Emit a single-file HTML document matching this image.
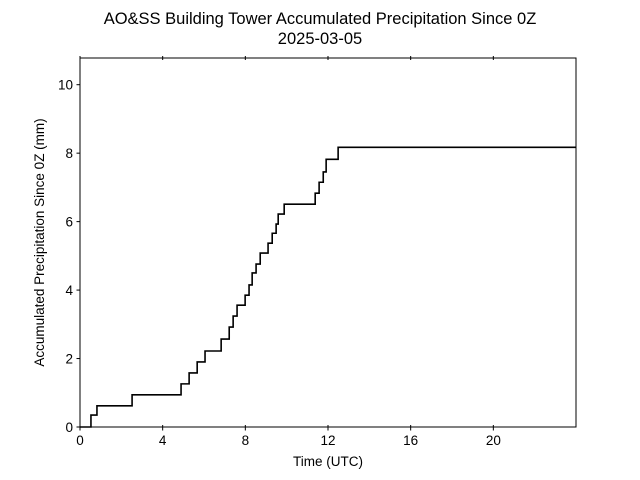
<!DOCTYPE html>
<html><head><meta charset="utf-8"><style>
html,body{margin:0;padding:0;background:#fff;}
svg{display:block;font-family:"Liberation Sans","DejaVu Sans",sans-serif;}
</style></head><body>
<svg id="chart" width="640" height="480" viewBox="0 0 640 480">
<rect width="640" height="480" fill="#fff"/>
<text x="320" y="24" text-anchor="middle" font-size="16.5">AO&amp;SS Building Tower Accumulated Precipitation Since 0Z</text>
<text x="320" y="44" text-anchor="middle" font-size="16.5">2025-03-05</text>
<g id="xticks"></g>
<g id="yticks"></g>
<path id="line" fill="none" stroke="#000" stroke-width="1.6"/>
<rect x="80" y="58" width="496" height="369" fill="none" stroke="#000" stroke-width="1"/>
<text x="328" y="466" text-anchor="middle" font-size="13.5">Time (UTC)</text>
<text transform="translate(44,242.5) rotate(-90)" text-anchor="middle" font-size="13.5">Accumulated Precipitation Since 0Z (mm)</text>
</svg>
<script>
const times = [0.53,0.82,2.52,4.89,5.28,5.67,6.05,6.83,7.22,7.41,7.60,7.99,8.18,8.33,8.52,8.72,9.10,9.30,9.49,9.59,9.88,11.38,11.57,11.77,11.91,12.49];
const totals = [0.35,0.62,0.94,1.26,1.58,1.90,2.22,2.57,2.92,3.24,3.56,3.85,4.15,4.50,4.76,5.08,5.37,5.66,5.93,6.22,6.51,6.83,7.15,7.45,7.82,8.17];
const xTickLabels = [0,4,8,12,16,20];
const yTickLabels = [0,2,4,6,8,10];
const X0=80,X1=576,Y0=427,Y1=58,XMAX=24,YMAX=10.78;
const sx=v=>X0+(v/XMAX)*(X1-X0);
const sy=v=>Y0-(v/YMAX)*(Y0-Y1);
const NS="http://www.w3.org/2000/svg";
let d=`M${sx(0)},${sy(0)}`, prev=0;
for(let i=0;i<times.length;i++){d+=` L${sx(times[i])},${sy(prev)} L${sx(times[i])},${sy(totals[i])}`;prev=totals[i];}
d+=` L${sx(XMAX)},${sy(prev)}`;
document.getElementById('line').setAttribute('d',d);
const xg=document.getElementById('xticks');
xTickLabels.forEach(v=>{
 const x=sx(v);
 [[Y0-2,Y0+3.5],[Y1-2,Y1+2]].forEach(([a,b])=>{
  const l=document.createElementNS(NS,'line');
  l.setAttribute('x1',x);l.setAttribute('x2',x);l.setAttribute('y1',a);l.setAttribute('y2',b);l.setAttribute('stroke','#000');
  
  
  xg.appendChild(l);
 });
 const t=document.createElementNS(NS,'text');
 t.setAttribute('x',x);t.setAttribute('y',Y0+18);t.setAttribute('text-anchor','middle');t.setAttribute('font-size','13.5');
 t.textContent=v;
 
 
 xg.appendChild(t);
});
const yg=document.getElementById('yticks');
yTickLabels.forEach(v=>{
 const y=sy(v);
 const l=document.createElementNS(NS,'line');
 l.setAttribute('x1',X0-3.5);l.setAttribute('x2',X0);l.setAttribute('y1',y);l.setAttribute('y2',y);l.setAttribute('stroke','#000');
 
 
 yg.appendChild(l);
 const t=document.createElementNS(NS,'text');
 t.setAttribute('x',X0-7);t.setAttribute('y',y+5);t.setAttribute('text-anchor','end');t.setAttribute('font-size','13.5');
 t.textContent=v;
 
 
 yg.appendChild(t);
});
</script>
</body></html>
